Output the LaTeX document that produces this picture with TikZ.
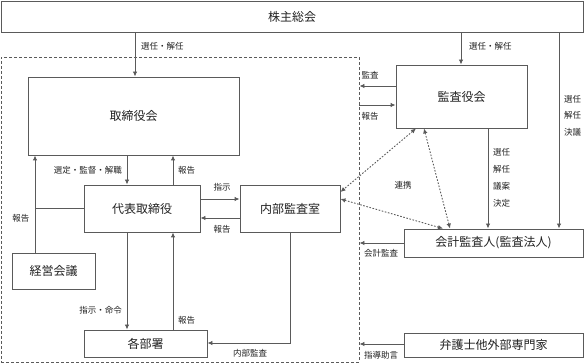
\documentclass[tikz,border=0pt]{standalone}
\usepackage{fontspec}
\setmainfont{Noto Sans CJK JP}
\usetikzlibrary{arrows.meta}
\definecolor{ln}{HTML}{5A5A5A}
\definecolor{tx}{HTML}{222222}
\tikzset{
  box/.style={draw=ln, line width=0.9pt, fill=white, text=tx, inner sep=0pt, font=\fontsize{12}{14}\selectfont},
  lab/.style={text=tx, inner sep=1pt, font=\fontsize{8.5}{10}\selectfont},
  arr/.style={draw=ln, line width=0.9pt, -{Latex[length=5pt,width=4.5pt]}},
  ln/.style={draw=ln, line width=0.9pt},
  dots/.style={draw=ln, line width=0.9pt, dash pattern=on 1.6pt off 1.6pt, {Latex[length=5pt,width=4.5pt]}-{Latex[length=5pt,width=4.5pt]}},
  grpst/.style={draw=ln, line width=0.9pt, dash pattern=on 3pt off 2pt, inner sep=0pt}
}
\begin{document}
\begin{tikzpicture}[x=1pt,y=-1pt]
\useasboundingbox (0,0) rectangle (584,363);
% group
\node[grpst, minimum width=358pt, minimum height=305pt] (grp) at (180,209.5) {};
% boxes
\node[box, minimum width=582pt, minimum height=31pt] (share) at (292,16.5) {株主総会};
\node[box, minimum width=211pt, minimum height=78pt] (board) at (133.5,116) {取締役会};
\node[box, minimum width=116pt, minimum height=47pt] (rep) at (142,208.5) {代表取締役};
\node[box, minimum width=100pt, minimum height=47pt] (naibu) at (290,208.5) {内部監査室};
\node[box, minimum width=83pt, minimum height=36pt] (keiei) at (53.5,271) {経営会議};
\node[box, minimum width=123pt, minimum height=27pt] (bumon) at (145.5,343.5) {各部署};
\node[box, minimum width=131pt, minimum height=63pt] (kansa) at (461.5,96.5) {監査役会};
\node[box, minimum width=179pt, minimum height=28pt] (kaikei) at (493.5,243) {会計監査人(監査法人)};
\node[box, minimum width=179pt, minimum height=24pt] (bengo) at (493.5,345) {弁護士他外部専門家};
% shareholders arrows
\draw[arr] (share.south -| 135,0) -- (board.north -| 135,0);
\node[lab, anchor=west] (l1) at (140,46) {選任・解任};
\draw[arr] (share.south -| 461,0) -- (kansa.north -| 461,0);
\node[lab, anchor=west] (l2) at (468,46) {選任・解任};
\draw[arr] (share.south -| 559,0) -- (kaikei.north -| 559,0);
\node[lab, anchor=west, align=left, font=\fontsize{8.5}{16.5}\selectfont] (l3) at (563,115.5) {選任\\解任\\決議};
% board <-> rep
\draw[arr] (board.south -| 127,0) -- (rep.north -| 127,0);
\node[lab, anchor=east] (l4) at (123,170) {選定・監督・解職};
\draw[arr] (rep.north -| 173,0) -- (board.south -| 173,0);
\node[lab, anchor=west] (l5) at (177,170) {報告};
% keiei
\draw[arr] (keiei.north -| 35,0) -- (board.south -| 35,0);
\draw[ln] (rep.west) -- (rep.west -| 35,0);
\node[lab] (l6) at (21,218) {報告};
% rep <-> naibu
\draw[arr] (rep.east |- 0,199) -- (naibu.west |- 0,199);
\node[lab] (l7) at (222,187) {指示};
\draw[arr] (naibu.west |- 0,218) -- (rep.east |- 0,218);
\node[lab] (l8) at (222,229) {報告};
% rep <-> bumon
\draw[arr] (rep.south -| 127,0) -- (bumon.north -| 127,0);
\node[lab, anchor=east] (l9) at (123,310) {指示・命令};
\draw[arr] (bumon.north -| 173,0) -- (rep.south -| 173,0);
\node[lab, anchor=west] (l10) at (177,320) {報告};
% naibu -> bumon
\draw[arr] (naibu.south -| 290,0) -- (290,343) -- (bumon.east |- 0,343);
\node[lab] (l11) at (250,353) {内部監査};
% kansa <-> group
\draw[arr] (kansa.west |- 0,86) -- (grp.east |- 0,86);
\node[lab] (l12) at (370,75) {監査};
\draw[arr] (grp.east |- 0,105) -- (kansa.west |- 0,105);
\node[lab] (l13) at (370,116) {報告};
% kansa -> kaikei
\draw[arr] (kansa.south -| 488,0) -- (kaikei.north -| 488,0);
\node[lab, anchor=west, align=left, font=\fontsize{8.5}{17}\selectfont] (l14) at (492,177.5) {選任\\解任\\議案\\決定};
% kaikei, bengo -> group
\draw[arr] (kaikei.west) -- (grp.east |- kaikei.west);
\node[lab] (l15) at (381,253) {会計監査};
\draw[arr] (bengo.west |- 0,344) -- (grp.east |- 0,344);
\node[lab] (l16) at (381,355.5) {指導助言};
% renkei dotted
\draw[dots] (kansa.south -| 416,0) -- (naibu.east |- 0,192);
\draw[dots] (kansa.south -| 424,0) -- (kaikei.north -| 450,0);
\draw[dots] (naibu.east |- 0,199) -- (kaikei.north -| 443,0);
\node[lab] (l17) at (403,185) {連携};
\end{tikzpicture}
\end{document}
